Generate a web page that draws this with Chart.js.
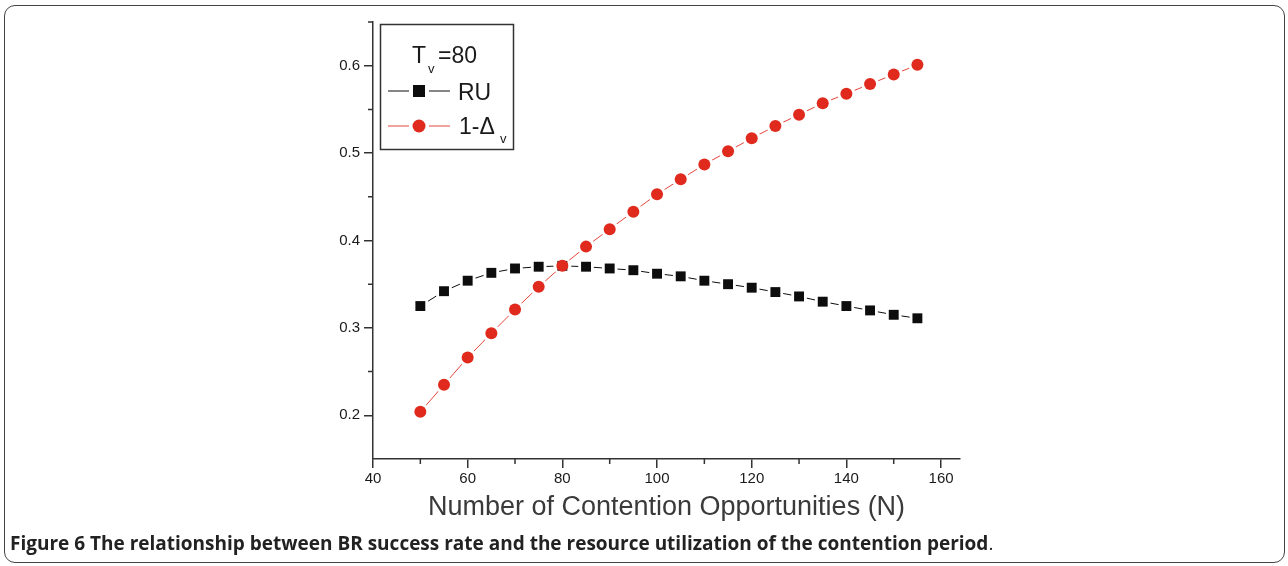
<!DOCTYPE html>
<html>
<head>
<meta charset="utf-8">
<script src="https://cdn.jsdelivr.net/npm/chart.js@4.4.0/dist/chart.umd.min.js"></script>
<style>
  html, body { margin: 0; padding: 0; background: #fff; }
  #wrap { position: relative; width: 1288px; height: 566px; overflow: hidden; }
  #frame {
    position: absolute; left: 4px; top: 5px; width: 1281px; height: 558px;
    border: 1.5px solid #444; border-radius: 11px; box-sizing: border-box;
  }
  #ruChart { position: absolute; left: 0; top: 0; }
  #caption {
    position: absolute; left: 10px; top: 530px; white-space: nowrap;
    font: bold 19px "Open Sans", sans-serif; color: #222;
  }
  #caption span { font-weight: normal; }
</style>
</head>
<body>
<div id="wrap">
  <div id="frame"></div>
  <canvas id="ruChart" width="1288" height="566"></canvas>
  <div id="caption">Figure 6 The relationship between BR success rate and the resource utilization of the contention period<span>.</span></div>
</div>
<script>
// ── Data ──────────────────────────────────────────────────────────────────────
const contentionOps = [50, 55, 60, 65, 70, 75, 80, 85, 90, 95, 100, 105, 110, 115, 120, 125, 130, 135, 140, 145, 150, 155];
const ruValues      = [0.325, 0.342, 0.354, 0.363, 0.368, 0.370, 0.371, 0.370, 0.368, 0.366, 0.362,
                       0.359, 0.354, 0.350, 0.346, 0.341, 0.336, 0.330, 0.325, 0.320, 0.315, 0.311];
const successValues = [0.204, 0.235, 0.266, 0.294, 0.321, 0.347, 0.371, 0.393, 0.413, 0.433, 0.453,
                       0.470, 0.487, 0.502, 0.517, 0.531, 0.544, 0.557, 0.568, 0.579, 0.590, 0.601];
const xTicks      = [40, 60, 80, 100, 120, 140, 160];
const xMinorTicks = [50, 70, 90, 110, 130, 150];
const yTicks      = [0.2, 0.3, 0.4, 0.5, 0.6];
const yMinorTicks = [0.25, 0.35, 0.45, 0.55, 0.65];

const AXIS = '#333';
const INK = '#1a1a1a';
const RU_COLOR = '#0d0d0d';
const RED_DOT = '#df2a1d';
const RED_LINE = '#e4463a';
const FONT = '"Liberation Sans", Arial, sans-serif';

const pts = vals => contentionOps.map((n, i) => ({ x: n, y: vals[i] }));

// ── Plugins ───────────────────────────────────────────────────────────────────

const minorTicks = {
  id: 'minorTicks',
  afterDraw(chart) {
    const { ctx, chartArea, scales } = chart;
    ctx.save();
    ctx.strokeStyle = AXIS;
    ctx.lineWidth = 1.5;
    ctx.beginPath();
    xMinorTicks.forEach(v => {
      const px = scales.x.getPixelForValue(v);
      ctx.moveTo(px, chartArea.bottom);
      ctx.lineTo(px, chartArea.bottom + 5);
    });
    yMinorTicks.forEach(v => {
      const py = scales.y.getPixelForValue(v);
      ctx.moveTo(chartArea.left, py);
      ctx.lineTo(chartArea.left - 5, py);
    });
    ctx.stroke();
    ctx.restore();
  },
};

const seriesKey = {
  id: 'seriesKey',
  afterDraw(chart) {
    const ctx = chart.ctx;
    ctx.save();
    ctx.strokeStyle = AXIS;
    ctx.lineWidth = 1.5;
    ctx.strokeRect(380.5, 24.5, 133, 125);

    ctx.fillStyle = INK;
    ctx.textBaseline = 'alphabetic';
    ctx.font = `23px ${FONT}`;
    ctx.fillText('T', 412, 63);
    ctx.fillText('=80', 438, 63);
    ctx.fillText('RU', 458, 100);
    ctx.fillText('1-\u0394', 459, 134);
    ctx.font = `13px ${FONT}`;
    ctx.fillText('v', 428, 73);
    ctx.fillText('v', 500, 143);

    // RU row
    ctx.lineWidth = 1;
    ctx.strokeStyle = RU_COLOR;
    ctx.beginPath();
    ctx.moveTo(388, 91); ctx.lineTo(409, 91);
    ctx.moveTo(429, 91); ctx.lineTo(450, 91);
    ctx.stroke();
    ctx.fillStyle = RU_COLOR;
    ctx.fillRect(413, 85, 12, 12);

    // 1-Δv row
    ctx.strokeStyle = RED_LINE;
    ctx.beginPath();
    ctx.moveTo(388, 126); ctx.lineTo(409, 126);
    ctx.moveTo(429, 126); ctx.lineTo(450, 126);
    ctx.stroke();
    ctx.fillStyle = RED_DOT;
    ctx.beginPath();
    ctx.arc(419, 126, 6.5, 0, Math.PI * 2);
    ctx.fill();
    ctx.restore();
  },
};

// ── Chart ─────────────────────────────────────────────────────────────────────

new Chart(document.getElementById('ruChart').getContext('2d'), {
  type: 'line',
  data: {
    datasets: [
      // line + white halo so the curve breaks around each marker
      {
        label: 'RU line',
        data: pts(ruValues),
        borderColor: RU_COLOR,
        borderWidth: 1,
        pointStyle: 'rect',
        pointRadius: 11,
        pointBackgroundColor: '#fff',
        pointBorderWidth: 0,
        order: 4,
      },
      {
        label: '1-Δv line',
        data: pts(successValues),
        borderColor: RED_LINE,
        borderWidth: 1,
        pointStyle: 'circle',
        pointRadius: 9,
        pointBackgroundColor: '#fff',
        pointBorderWidth: 0,
        order: 3,
      },
      {
        label: 'RU',
        data: pts(ruValues),
        showLine: false,
        pointStyle: 'rect',
        pointRadius: 7,
        pointBackgroundColor: RU_COLOR,
        pointBorderWidth: 0,
        order: 2,
      },
      {
        label: '1-Δv',
        data: pts(successValues),
        showLine: false,
        pointStyle: 'circle',
        pointRadius: 6,
        pointBackgroundColor: RED_DOT,
        pointBorderWidth: 0,
        order: 1,
      },
    ],
  },
  plugins: [minorTicks, seriesKey],
  options: {
    responsive: false,
    animation: false,
    events: [],
    layout: { padding: { left: 0, right: 328, top: 22, bottom: 42 } },
    elements: { line: { tension: 0 } },
    plugins: { legend: { display: false }, tooltip: { enabled: false } },
    scales: {
      x: {
        type: 'linear',
        min: 40,
        max: 164,
        afterBuildTicks: s => { s.ticks = xTicks.map(v => ({ value: v })); },
        afterFit: s => { s.height = 65; },
        ticks: { color: INK, font: { family: FONT, size: 15 }, padding: 2, maxRotation: 0 },
        grid: { drawOnChartArea: false, drawTicks: true, tickLength: 9, color: AXIS, lineWidth: 1.5 },
        border: { display: true, color: AXIS, width: 1.5 },
        title: {
          display: true,
          text: 'Number of Contention Opportunities (N)',
          color: '#3a3a3a',
          font: { family: FONT, size: 27 },
          padding: { top: 0, bottom: 0 },
        },
      },
      y: {
        type: 'linear',
        min: 0.15,
        max: 0.65,
        afterBuildTicks: s => { s.ticks = yTicks.map(v => ({ value: v })); },
        afterFit: s => { s.width = 373; },
        ticks: { color: INK, font: { family: FONT, size: 15 }, padding: 4 },
        grid: { drawOnChartArea: false, drawTicks: true, tickLength: 9, color: AXIS, lineWidth: 1.5 },
        border: { display: true, color: AXIS, width: 1.5 },
      },
    },
  },
});
</script>
</body>
</html>
